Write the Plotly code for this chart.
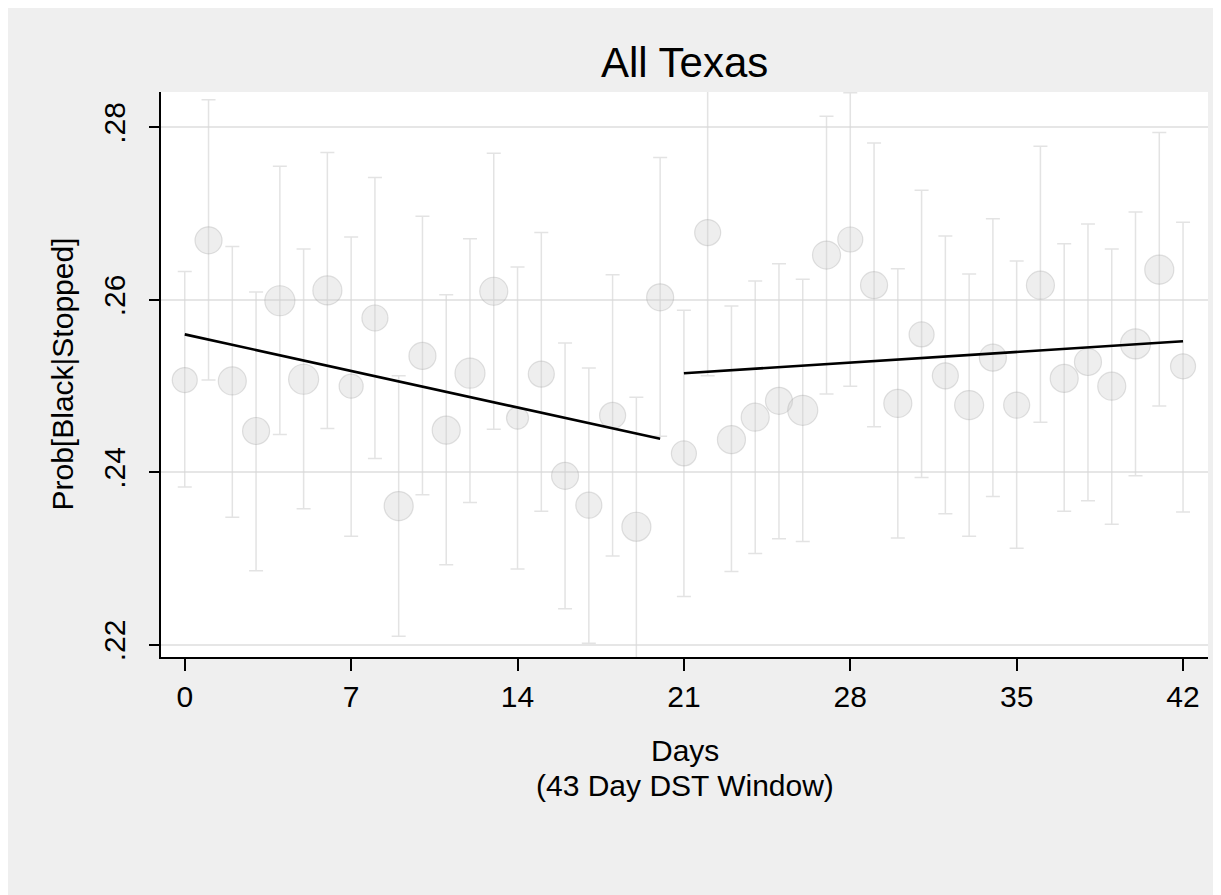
import plotly.graph_objects as go

days = list(range(43))
prob = [.2507, .2669, .2506, .2448, .2599, .2508, .2611, .2500, .2579, .2361,
        .2535, .2449, .2515, .2610, .2463, .2514, .2396, .2362, .2466, .2337,
        .2603, .2422, .2678, .2438, .2464, .2483, .2472, .2652, .2670, .2617,
        .2480, .2560, .2512, .2478, .2533, .2478, .2617, .2509, .2528, .2500,
        .2549, .2635, .2523]
ci_hi = [.2633, .2832, .2662, .2609, .2755, .2659, .2771, .2673, .2742, .2512,
         .2697, .2606, .2671, .2770, .2638, .2678, .2550, .2521, .2629, .2487,
         .2765, .2588, .2850, .2593, .2622, .2642, .2624, .2813, .2840, .2782,
         .2636, .2727, .2674, .2630, .2694, .2645, .2778, .2665, .2688, .2659,
         .2702, .2794, .2690]
ci_lo = [.2383, .2507, .2348, .2286, .2444, .2358, .2451, .2326, .2416, .2210,
         .2374, .2293, .2365, .2450, .2288, .2355, .2242, .2202, .2303, .2170,
         .2442, .2256, .2512, .2285, .2306, .2323, .2320, .2491, .2500, .2453,
         .2324, .2394, .2352, .2326, .2372, .2312, .2458, .2355, .2367, .2340,
         .2396, .2477, .2354]
weight = [25, 27, 28, 27, 30, 30, 29, 24, 26, 29,
          27, 28, 30, 28, 22, 26, 27, 26, 26, 29,
          27, 25, 26, 28, 28, 27, 30, 28, 25, 27,
          28, 25, 26, 29, 27, 26, 28, 28, 27, 28,
          30, 29, 25]
fit_left_x = [0, 20]
fit_left_y = [.2560, .2439]
fit_right_x = [21, 42]
fit_right_y = [.2515, .2552]

x_ticks = [0, 7, 14, 21, 28, 35, 42]
y_ticks = [.22, .24, .26, .28]
y_tick_text = [".22", ".24", ".26", ".28"]

title_text = "All Texas"
x_title_lines = ["Days", "(43 Day DST Window)"]
y_title_text = "Prob[Black|Stopped]"

FONT = "Liberation Sans, Arial, sans-serif"

fig = go.Figure()
fig.add_trace(go.Scatter(
    x=days, y=prob, mode="markers",
    marker=dict(size=weight, color="rgba(205,205,205,0.45)",
                line=dict(color="rgba(160,160,160,0.45)", width=1.2)),
    error_y=dict(type="data", symmetric=False,
                 array=[h - p for h, p in zip(ci_hi, prob)],
                 arrayminus=[p - l for p, l in zip(prob, ci_lo)],
                 color="rgba(215,215,215,0.7)", thickness=1.5, width=7),
    showlegend=False, hoverinfo="skip"))
fig.add_trace(go.Scatter(x=fit_left_x, y=fit_left_y, mode="lines",
                         line=dict(color="black", width=2.6), showlegend=False))
fig.add_trace(go.Scatter(x=fit_right_x, y=fit_right_y, mode="lines",
                         line=dict(color="black", width=2.6), showlegend=False))

annotations = [
    dict(text=title_text, xref="paper", yref="paper", x=0.5, y=1,
         xanchor="center", yanchor="middle", yshift=30, showarrow=False,
         font=dict(size=42, family=FONT, color="black")),
    dict(text=x_title_lines[0], xref="paper", yref="paper", x=0.5, y=0,
         xanchor="center", yanchor="middle", yshift=-93, showarrow=False,
         font=dict(size=30, family=FONT, color="black")),
    dict(text=x_title_lines[1], xref="paper", yref="paper", x=0.5, y=0,
         xanchor="center", yanchor="middle", yshift=-128, showarrow=False,
         font=dict(size=30, family=FONT, color="black")),
    dict(text=y_title_text, xref="paper", yref="paper", x=0, y=0.5,
         xanchor="center", yanchor="middle", xshift=-99, textangle=-90,
         showarrow=False, font=dict(size=30, family=FONT, color="black")),
]

fig.update_layout(
    width=1221, height=895,
    margin=dict(l=153, r=21, t=84, b=246),
    paper_bgcolor="#efefef", plot_bgcolor="white",
    font=dict(family=FONT, size=30, color="black"),
    annotations=annotations,
)
fig.update_xaxes(
    range=[-1.0, 43.05], tickvals=x_ticks, ticktext=[str(t) for t in x_ticks],
    showgrid=False, zeroline=False, showline=True, linecolor="black", linewidth=2,
    ticks="outside", ticklen=12, tickwidth=2, tickcolor="black",
    tickfont=dict(size=30),
)
fig.update_yaxes(
    range=[.2186, .2841], tickvals=y_ticks, ticktext=y_tick_text, tickangle=-90,
    showgrid=True, gridcolor="#e6e6e6", gridwidth=2, zeroline=False,
    showline=True, linecolor="black", linewidth=2,
    ticks="outside", ticklen=10, tickwidth=2, tickcolor="black",
    ticklabelstandoff=12,
    tickfont=dict(size=30),
)

fig.write_html("out.html")
